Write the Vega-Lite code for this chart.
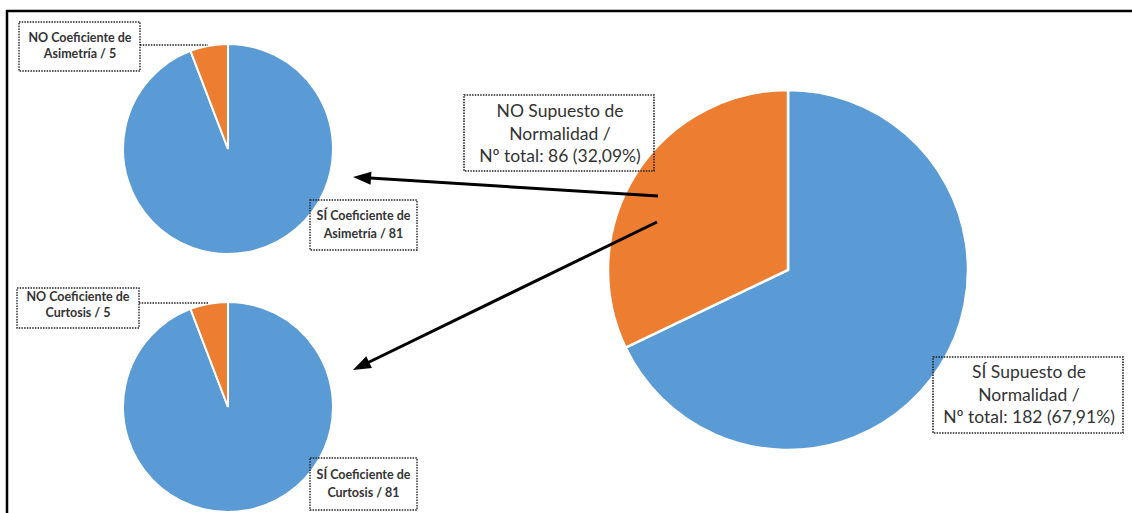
{
  "$schema": "https://vega.github.io/schema/vega-lite/v6.json",
  "width": 1132,
  "height": 513,
  "autosize": {"type": "fit", "contains": "padding"},
  "padding": 0,
  "background": "white",
  "config": {"view": {"stroke": null}},
  "layer": [
    {
      "data": {"values": [{"marco": "borde"}]},
      "mark": {"type": "rect", "x": 7, "y": 11, "x2": 1145, "y2": 540, "fill": "white", "fillOpacity": 0, "stroke": "black", "strokeWidth": 2.5},
      "encoding": {}
    },
    {
      "data": {"values": [{"grupo": "SÍ", "n": 182}, {"grupo": "NO", "n": 86}]},
      "mark": {"type": "arc", "x": 788, "y": 270, "outerRadius": 180, "stroke": "white", "strokeWidth": 2.5},
      "encoding": {
        "theta": {"field": "n", "type": "quantitative", "stack": "normalize"},
        "color": {"field": "grupo", "type": "nominal", "scale": {"domain": ["SÍ", "NO"], "range": ["#5B9BD5", "#ED7D31"]}, "legend": null},
        "order": {"field": "grupo", "sort": "descending"}
      }
    },
    {
      "data": {"values": [{"grupo": "SÍ", "n": 81}, {"grupo": "NO", "n": 5}]},
      "mark": {"type": "arc", "x": 228, "y": 149, "outerRadius": 105, "stroke": "white", "strokeWidth": 2},
      "encoding": {
        "theta": {"field": "n", "type": "quantitative", "stack": "normalize"},
        "color": {"field": "grupo", "type": "nominal", "scale": {"domain": ["SÍ", "NO"], "range": ["#5B9BD5", "#ED7D31"]}, "legend": null},
        "order": {"field": "grupo", "sort": "descending"}
      }
    },
    {
      "data": {"values": [{"grupo": "SÍ", "n": 81}, {"grupo": "NO", "n": 5}]},
      "mark": {"type": "arc", "x": 228, "y": 407, "outerRadius": 105, "stroke": "white", "strokeWidth": 2},
      "encoding": {
        "theta": {"field": "n", "type": "quantitative", "stack": "normalize"},
        "color": {"field": "grupo", "type": "nominal", "scale": {"domain": ["SÍ", "NO"], "range": ["#5B9BD5", "#ED7D31"]}, "legend": null},
        "order": {"field": "grupo", "sort": "descending"}
      }
    },
    {
      "data": {"values": [{"flecha": "asimetria"}]},
      "mark": {"type": "rule", "stroke": "black", "strokeWidth": 3},
      "encoding": {"x": {"value": 658}, "y": {"value": 196}, "x2": {"value": 362}, "y2": {"value": 177.6}}
    },
    {
      "data": {"values": [{"flecha": "asimetria"}]},
      "mark": {"type": "point", "shape": "M1,0L-1,-0.72L-1,0.72Z", "filled": true, "color": "black", "opacity": 1, "size": 324, "angle": 183.6, "x": 362, "y": 177.6},
      "encoding": {}
    },
    {
      "data": {"values": [{"flecha": "curtosis"}]},
      "mark": {"type": "rule", "stroke": "black", "strokeWidth": 3},
      "encoding": {"x": {"value": 657}, "y": {"value": 222}, "x2": {"value": 361}, "y2": {"value": 366}}
    },
    {
      "data": {"values": [{"flecha": "curtosis"}]},
      "mark": {"type": "point", "shape": "M1,0L-1,-0.72L-1,0.72Z", "filled": true, "color": "black", "opacity": 1, "size": 324, "angle": 154, "x": 361, "y": 366},
      "encoding": {}
    },
    {
      "data": {"values": [{"guia": "asimetria"}]},
      "mark": {"type": "rule", "stroke": "#222222", "strokeWidth": 1.4, "strokeDash": [1.5, 1.2]},
      "encoding": {"x": {"value": 140}, "y": {"value": 45}, "x2": {"value": 208}, "y2": {"value": 45}}
    },
    {
      "data": {"values": [{"guia": "curtosis"}]},
      "mark": {"type": "rule", "stroke": "#222222", "strokeWidth": 1.4, "strokeDash": [1.5, 1.2]},
      "encoding": {"x": {"value": 139}, "y": {"value": 303}, "x2": {"value": 208}, "y2": {"value": 303}}
    },
    {
      "data": {"values": [{"caja": 1}]},
      "mark": {"type": "rect", "x": 19, "y": 22, "x2": 140, "y2": 71, "fill": "white", "fillOpacity": 0, "stroke": "#222222", "strokeWidth": 1.4, "strokeDash": [1.5, 1.2]},
      "encoding": {}
    },
    {
      "data": {"values": [{"caja": 2}]},
      "mark": {"type": "rect", "x": 310, "y": 200, "x2": 417, "y2": 250, "fill": "white", "fillOpacity": 0, "stroke": "#222222", "strokeWidth": 1.4, "strokeDash": [1.5, 1.2]},
      "encoding": {}
    },
    {
      "data": {"values": [{"caja": 3}]},
      "mark": {"type": "rect", "x": 17, "y": 288, "x2": 139, "y2": 328, "fill": "white", "fillOpacity": 0, "stroke": "#222222", "strokeWidth": 1.4, "strokeDash": [1.5, 1.2]},
      "encoding": {}
    },
    {
      "data": {"values": [{"caja": 4}]},
      "mark": {"type": "rect", "x": 310, "y": 458, "x2": 417, "y2": 510, "fill": "white", "fillOpacity": 0, "stroke": "#222222", "strokeWidth": 1.4, "strokeDash": [1.5, 1.2]},
      "encoding": {}
    },
    {
      "data": {"values": [{"caja": 5}]},
      "mark": {"type": "rect", "x": 464, "y": 95, "x2": 654, "y2": 171, "fill": "white", "fillOpacity": 0, "stroke": "#222222", "strokeWidth": 1.6, "strokeDash": [1.5, 1.2]},
      "encoding": {}
    },
    {
      "data": {"values": [{"caja": 6}]},
      "mark": {"type": "rect", "x": 933, "y": 357, "x2": 1123, "y2": 433, "fill": "white", "fillOpacity": 0, "stroke": "#222222", "strokeWidth": 1.6, "strokeDash": [1.5, 1.2]},
      "encoding": {}
    },
    {
      "data": {"values": [{"etiqueta": "NO Coeficiente de\nAsimetría / 5"}]},
      "mark": {"type": "text", "x": 80, "y": 38, "align": "center", "baseline": "middle", "lineBreak": "\n", "lineHeight": 16, "font": "Lato", "fontWeight": "bold", "fontSize": 12.5, "color": "#333333"},
      "encoding": {"text": {"field": "etiqueta", "type": "nominal"}}
    },
    {
      "data": {"values": [{"etiqueta": "SÍ Coeficiente de\nAsimetría / 81"}]},
      "mark": {"type": "text", "x": 363.5, "y": 216, "align": "center", "baseline": "middle", "lineBreak": "\n", "lineHeight": 18, "font": "Lato", "fontWeight": "bold", "fontSize": 12.5, "color": "#333333"},
      "encoding": {"text": {"field": "etiqueta", "type": "nominal"}}
    },
    {
      "data": {"values": [{"etiqueta": "NO Coeficiente de\nCurtosis / 5"}]},
      "mark": {"type": "text", "x": 78, "y": 297, "align": "center", "baseline": "middle", "lineBreak": "\n", "lineHeight": 16, "font": "Lato", "fontWeight": "bold", "fontSize": 12.5, "color": "#333333"},
      "encoding": {"text": {"field": "etiqueta", "type": "nominal"}}
    },
    {
      "data": {"values": [{"etiqueta": "SÍ Coeficiente de\nCurtosis / 81"}]},
      "mark": {"type": "text", "x": 363.5, "y": 475, "align": "center", "baseline": "middle", "lineBreak": "\n", "lineHeight": 18, "font": "Lato", "fontWeight": "bold", "fontSize": 12.5, "color": "#333333"},
      "encoding": {"text": {"field": "etiqueta", "type": "nominal"}}
    },
    {
      "data": {"values": [{"etiqueta": "NO Supuesto de\nNormalidad /\nNº total: 86 (32,09%)"}]},
      "mark": {"type": "text", "x": 560, "y": 112, "align": "center", "baseline": "middle", "lineBreak": "\n", "lineHeight": 22.5, "font": "Lato", "fontSize": 17.5, "color": "#333333"},
      "encoding": {"text": {"field": "etiqueta", "type": "nominal"}}
    },
    {
      "data": {"values": [{"etiqueta": "SÍ Supuesto de\nNormalidad /\nNº total: 182 (67,91%)"}]},
      "mark": {"type": "text", "x": 1029, "y": 373, "align": "center", "baseline": "middle", "lineBreak": "\n", "lineHeight": 22.5, "font": "Lato", "fontSize": 17.5, "color": "#333333"},
      "encoding": {"text": {"field": "etiqueta", "type": "nominal"}}
    }
  ]
}
